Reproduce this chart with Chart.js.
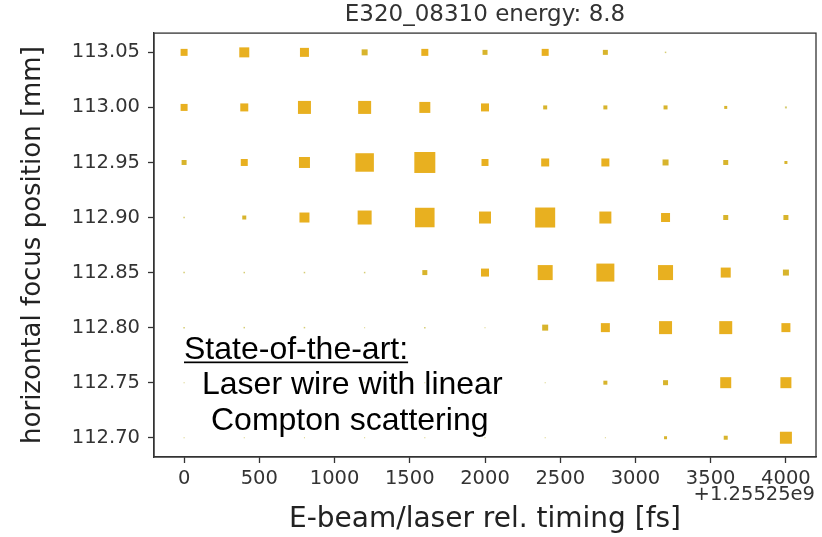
<!DOCTYPE html>
<html>
<head>
<meta charset="utf-8">
<script src="https://cdn.jsdelivr.net/npm/chart.js@4"></script>
<style>
  html, body { margin: 0; padding: 0; background: #fff; }
  #wrap { width: 822px; height: 537px; }
</style>
</head>
<body>
<div id="wrap"><canvas id="scan"></canvas></div>
<script>
// timing steps [fs, offset +1.25525e9] and focus positions [mm]
const timings = [0, 400, 800, 1200, 1600, 2000, 2400, 2800, 3200, 3600, 4000];
const focusPositions = [113.05, 113.0, 112.95, 112.9, 112.85, 112.8, 112.75, 112.7];

// signal per focus row (marker size)
const signal11305 = [7, 10, 9, 6, 7, 5, 7, 5, 1.5, 0, 0];
const signal11300 = [7, 8, 13, 13, 11, 8, 4, 4, 4, 3, 2];
const signal11295 = [5, 7, 11, 18.5, 21, 7, 8, 8, 6, 5, 3];
const signal11290 = [1.5, 4, 10, 14, 19.5, 12, 20, 12, 9, 5, 5];
const signal11285 = [1.5, 1.5, 1.5, 1.5, 5, 8, 15, 18, 15, 10, 6];
const signal11280 = [1.5, 1.5, 1.5, 1, 1.5, 1, 6, 9, 13, 13, 9];
const signal11275 = [1, 1, 1, 1, 1, 1, 1, 4, 5, 11, 11];
const signal11270 = [1, 1, 1, 1, 1, 1, 1, 1, 3, 4, 12];
const signalRows = [signal11305, signal11300, signal11295, signal11290,
                    signal11285, signal11280, signal11275, signal11270];

const xTicks = [0, 500, 1000, 1500, 2000, 2500, 3000, 3500, 4000];
const yTicks = [112.7, 112.75, 112.8, 112.85, 112.9, 112.95, 113.0, 113.05];

const title = "E320_08310 energy: 8.8";
const xLabel = "E-beam/laser rel. timing [fs]";
const yLabel = "horizontal focus position [mm]";
const offsetLabel = "+1.25525e9";
const noteHead = "State-of-the-art:";
const noteLines = ["Laser wire with linear", "Compton scattering"];

const points = [];
focusPositions.forEach((y, row) => {
  timings.forEach((x, col) => {
    const s = signalRows[row][col];
    if (s > 0) points.push({ x: x, y: y, s: s });
  });
});

const gold = s => (s < 3 ? "rgba(200,188,70,0.75)" : s < 7 ? "#d8b42c" : "#e8b020");

const frameBox = {
  id: "frameBox",
  afterDraw(chart) {
    const { ctx, chartArea: a } = chart;
    ctx.save();
    ctx.strokeStyle = "#333";
    ctx.lineWidth = 1.3;
    ctx.strokeRect(a.left, a.top, a.right - a.left, a.bottom - a.top);

    ctx.fillStyle = "#333";
    ctx.font = "19.5px 'DejaVu Sans'";
    ctx.textAlign = "right";
    ctx.textBaseline = "middle";
    ctx.fillText(offsetLabel, 815, 495);

    ctx.fillStyle = "#000";
    ctx.font = "32px 'Liberation Sans'";
    ctx.textAlign = "left";
    ctx.textBaseline = "alphabetic";
    ctx.fillText(noteHead, 184, 359);
    const w = ctx.measureText(noteHead).width;
    ctx.fillRect(184, 361.5, w, 1.7);
    ctx.fillText(noteLines[0], 202, 394);
    ctx.fillText(noteLines[1], 211, 430);
    ctx.restore();
  }
};

new Chart(document.getElementById("scan"), {
  type: "scatter",
  data: {
    datasets: [
      {
        data: points,
        pointStyle: "rect",
        pointRadius: ctx => (ctx.raw ? ctx.raw.s / Math.SQRT2 : 0),
        pointHoverRadius: ctx => (ctx.raw ? ctx.raw.s / Math.SQRT2 : 0),
        pointBorderWidth: 0,
        backgroundColor: ctx => (ctx.raw ? gold(ctx.raw.s) : "#e8b020"),
        borderColor: "rgba(0,0,0,0)",
      },
    ],
  },
  plugins: [frameBox],
  options: {
    responsive: true,
    maintainAspectRatio: false,
    animation: false,
    layout: { autoPadding: false, padding: { left: 0, right: 6, top: 0, bottom: 0 } },
    plugins: {
      legend: { display: false },
      tooltip: { enabled: false },
      title: {
        display: true,
        fullSize: false,
        text: title,
        color: "#333",
        font: { family: "DejaVu Sans", size: 23, weight: "normal" },
        padding: { top: 1.5, bottom: 4 },
      },
    },
    scales: {
      x: {
        type: "linear",
        min: -200,
        max: 4200,
        afterBuildTicks: scale => {
          scale.ticks = xTicks.map(v => ({ value: v }));
        },
        afterFit: scale => {
          scale.height = 80;
          scale.paddingLeft = 0;
          scale.paddingRight = 0;
        },
        grid: { drawOnChartArea: false, drawTicks: true, tickLength: 6, color: "#333", tickWidth: 1.3 },
        border: { display: true, color: "#333", width: 1.3 },
        ticks: {
          color: "#333",
          padding: 4,
          maxRotation: 0,
          font: { family: "DejaVu Sans", size: 19.5 },
          callback: v => String(v),
        },
        title: {
          display: true,
          text: xLabel,
          color: "#222",
          font: { family: "DejaVu Sans", size: 28 },
          padding: { top: 0, bottom: 0 },
        },
      },
      y: {
        type: "linear",
        min: 112.6825,
        max: 113.0675,
        afterBuildTicks: scale => {
          scale.ticks = yTicks.map(v => ({ value: v }));
        },
        afterFit: scale => {
          scale.width = 154;
          scale.paddingTop = 0;
          scale.paddingBottom = 0;
        },
        grid: { drawOnChartArea: false, drawTicks: true, tickLength: 6, color: "#333", tickWidth: 1.3 },
        border: { display: true, color: "#333", width: 1.3 },
        ticks: {
          color: "#333",
          padding: 8,
          font: { family: "DejaVu Sans", size: 19.5 },
          callback: v => v.toFixed(2),
        },
        title: {
          display: true,
          text: yLabel,
          color: "#222",
          font: { family: "DejaVu Sans", size: 26 },
          padding: { top: 17.5, bottom: 0 },
        },
      },
    },
  },
});
</script>
</body>
</html>
